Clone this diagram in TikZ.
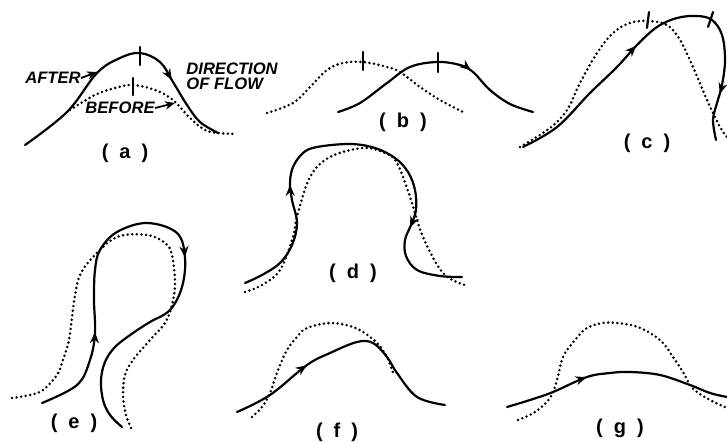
\documentclass[tikz,border=0pt]{standalone}
\usepackage{fontspec}
\setmainfont{Liberation Sans}
\usetikzlibrary{arrows.meta, decorations.markings}

\newcommand{\panellbl}[1]{(\hspace{0.55em}#1\hspace{0.55em})}

\begin{document}
\begin{tikzpicture}[
  x=0.5pt, y=-0.5pt,
  after/.style={line width=1.1pt, line cap=round},
  before/.style={line width=1.4pt, line cap=round, dash pattern=on 0pt off 2.3pt},
  flowtip/.style={postaction={decorate, decoration={markings,
      mark=at position #1 with {\arrow{Stealth[length=5.5pt,width=4.5pt]}}}}},
  tag/.style={inner sep=0pt, font=\fontsize{8.3}{7.6}\selectfont\bfseries\itshape},
  leader/.style={line width=0.9pt, -{Stealth[length=5pt,width=4.2pt]}},
  panel/.style={inner sep=0pt, font=\fontsize{10}{10}\selectfont\bfseries},
]
\useasboundingbox (0,0) rectangle (727,443);

% Panel (a)
\draw[before] plot[smooth, tension=0.6] coordinates
  {(70,110) (95,95) (115,88) (133,85) (155,90) (173,100) (190,118) (205,130) (218,133) (237,134)};
\draw[after, flowtip=0.73] plot[smooth, tension=0.6] coordinates
  {(25,145) (67,112) (97,73) (120,58) (140,53) (160,62) (173,82) (187,105) (200,122) (218,133)};
\draw[after] (140,47) -- (140,65);
\draw[after] (133,78) -- (133,95);
\node[tag] (after) at (53,78) {AFTER};
\coordinate (afterhit) at (97,72);
\draw[leader] (after.east) -- (afterhit);
\node[tag] (before) at (120,108) {BEFORE};
\coordinate (beforehit) at (175,103);
\draw[leader] (before.east) -- (beforehit);
\node[tag, anchor=west, align=left] (flow) at (186,76) {DIRECTION\\OF FLOW};
\node[panel] (lbla) at (125,153) {\panellbl{a}};

% Panel (b)
\draw[before] plot[smooth, tension=0.6] coordinates
  {(267,113) (293,103) (310,87) (327,70) (343,63) (363,62) (387,67) (400,72) (420,87) (440,100) (463,112)};
\draw[after, flowtip=0.66] plot[smooth, tension=0.6] coordinates
  {(338,112) (360,103) (387,83) (410,67) (437,62) (460,65) (473,72) (490,90) (510,104) (533,112)};
\draw[after] (363,52) -- (363,70);
\draw[after] (438,53) -- (438,72);
\node[panel] (lblb) at (403,122) {\panellbl{b}};

% Panel (c)
\draw[before] plot[smooth, tension=0.6] coordinates
  {(520,147) (550,128) (567,110) (580,83) (597,53) (613,33) (630,23) (648,21) (667,25) (680,40) (693,67) (707,100) (720,127) (727,137)};
\draw[after, flowtip=0.42, flowtip=0.87] plot[smooth, tension=0.6] coordinates
  {(523,147) (557,127) (590,93) (617,67) (637,45) (657,27) (677,18) (697,16) (712,20) (722,35) (725,60) (722,85) (717,103) (713,120) (716,140)};
\draw[after] (649,12) -- (647,28);
\draw[after] (713,12) -- (708,27);
\node[panel] (lblc) at (647,143) {\panellbl{c}};

% Panel (d)
\draw[before] plot[smooth, tension=0.6] coordinates
  {(245,292) (262,285) (280,270) (293,237) (297,217) (310,177) (330,157) (363,148) (385,153) (397,163) (410,197) (423,237) (443,273) (465,285)};
\draw[after, flowtip=0.29, flowtip=0.78] plot[smooth, tension=0.6] coordinates
  {(245,283) (262,275) (280,263) (292,245) (297,223) (292,200) (290,183) (293,167) (303,153) (317,147) (350,144) (375,148) (395,158) (408,172) (415,190) (416,210) (411,225) (405,240) (406,256) (417,270) (440,276) (462,277)};
\node[panel] (lbld) at (353,273) {\panellbl{d}};

% Panel (e)
\draw[before] plot[smooth, tension=0.6] coordinates
  {(12,398) (30,395) (43,390) (57,375) (63,360) (69,340) (72,317) (75,295) (80,275) (93,257) (117,237) (147,235) (165,243) (172,255) (175,283) (172,305) (165,323) (150,340) (133,360) (125,375) (123,395) (126,415) (132,430)};
\draw[after, flowtip=0.19, flowtip=0.58] plot[smooth, tension=0.6] coordinates
  {(42,403) (77,385) (90,360) (95,333) (94,300) (95,270) (100,250) (117,232) (147,223) (177,233) (185,258) (182,287) (170,310) (150,322) (133,333) (115,347) (105,362) (101,380) (103,400) (110,415) (122,427)};
\node[panel] (lble) at (74,423) {\panellbl{e}};

% Panel (f)
\draw[before] plot[smooth, tension=0.6] coordinates
  {(252,417) (262,407) (270,393) (278,370) (287,350) (297,337) (307,328) (330,323) (350,326) (363,332) (377,343) (387,357) (393,373)};
\draw[after, flowtip=0.33] plot[smooth, tension=0.6] coordinates
  {(237,412) (270,395) (307,365) (330,353) (357,342) (373,343) (387,357) (397,373) (417,397) (445,405)};
\node[panel] (lblf) at (337,432) {\panellbl{f}};

% Panel (g)
\draw[before] plot[smooth, tension=0.6] coordinates
  {(518,420) (535,412) (550,398) (557,380) (563,357) (575,340) (587,328) (603,323) (617,323) (635,326) (650,333) (663,343) (673,357) (683,372) (690,385) (697,392) (710,400) (727,408)};
\draw[after, flowtip=0.37] plot[smooth, tension=0.6] coordinates
  {(507,407) (530,400) (553,392) (587,377) (610,373) (630,372) (660,375) (690,385) (710,393) (727,397)};
\node[panel] (lblg) at (620,428) {\panellbl{g}};

\end{tikzpicture}
\end{document}
